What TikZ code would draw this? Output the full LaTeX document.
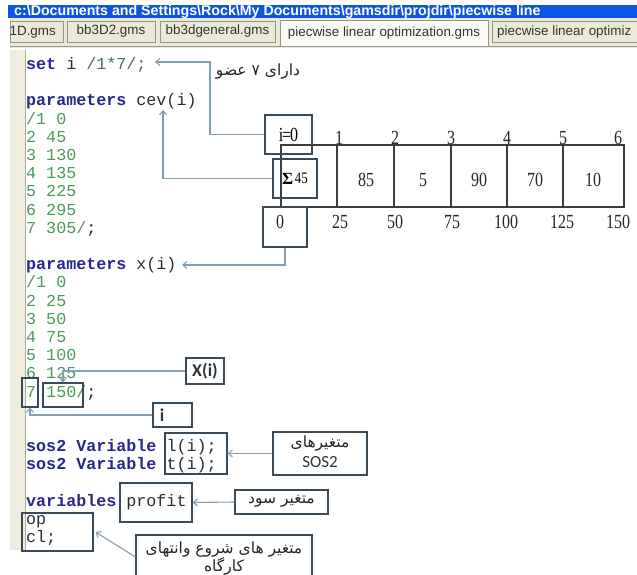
\documentclass[tikz,border=0pt]{standalone}
\usepackage{fontspec}
\usepackage{graphicx}
\setmainfont{Liberation Serif}
\newfontfamily\codefont{Liberation Mono}
\newfontfamily\uifont{Liberation Sans}
\newfontfamily\labfont{Carlito}
\newfontfamily\fafont[Script=Arabic]{DejaVu Sans}
\TeXXeTstate=1
\usetikzlibrary{arrows.meta}
\definecolor{kwc}{RGB}{40,40,140}
\definecolor{datc}{RGB}{78,152,88}
\definecolor{setc}{RGB}{70,110,100}
\definecolor{connc}{RGB}{130,158,178}
\definecolor{bxc}{RGB}{55,75,90}
\definecolor{tblc}{RGB}{60,60,60}
\definecolor{titleblue}{RGB}{12,86,226}
\definecolor{tabbg}{RGB}{236,233,216}
\definecolor{tabact}{RGB}{250,249,244}
\definecolor{tabdark}{RGB}{150,148,135}
\definecolor{gutterc}{RGB}{240,237,222}
\definecolor{gutline}{RGB}{175,172,160}
\definecolor{codec}{RGB}{45,45,45}
\newcommand{\mykw}[1]{{\bfseries\color{kwc}#1}}
\newcommand{\mydat}[1]{\textcolor{datc}{#1}}
\newcommand{\tsq}[1]{\scalebox{0.8}[1]{#1}}
\begin{document}
\begin{tikzpicture}[x=1pt,y=-1pt,
  codeline/.style={anchor=base west, inner sep=0pt, font=\codefont\fontsize{16.7}{18}\selectfont, text=codec},
  cbox/.style={draw=bxc, line width=1.2pt, inner sep=0pt},
  cell/.style={draw=tblc, line width=1.1pt, inner sep=0pt, minimum height=62pt},
  tnum/.style={inner sep=0pt, font=\fontsize{20}{20}\selectfont, text=black!85},
  conn/.style={draw=connc, line width=1.1pt, -{Straight Barb[length=4pt,width=7pt]}},
  fa/.style={font=\fafont\fontsize{15.5}{18}\selectfont, text=black!85, inner sep=0pt, align=center},
  lab/.style={font=\labfont\bfseries\fontsize{18}{20}\selectfont, text=black!80, inner sep=0pt},
  tabst/.style={draw=tabdark, line width=0.8pt, fill=tabbg, inner sep=0pt, font=\uifont\fontsize{13.4}{15}\selectfont, text=black!80},
  tabtxt/.style={inner sep=0pt, font=\uifont\fontsize{13.4}{15}\selectfont, text=black!80}
]
\useasboundingbox (0,0) rectangle (637,575);
\clip (0,0) rectangle (637,575);
\fill[white] (0,0) rectangle (637,575);

% title bar
\fill[titleblue] (8,5) rectangle (637,18.5);
\begin{scope}
\clip (8,5) rectangle (637,18.5);
\node[anchor=base west, inner sep=0pt, text=white, font=\uifont\bfseries\fontsize{14.2}{15}\selectfont] (title) at (14,15.8) {c:\textbackslash Documents and Settings\textbackslash Rock\textbackslash My Documents\textbackslash gamsdir\textbackslash projdir\textbackslash piecwise line};
\end{scope}

% tab bar
\fill[tabbg] (10,18.5) rectangle (637,48);
\draw[tabdark, line width=0.8pt] (10,46) -- (637,46);
\node[tabst, minimum width=53pt, minimum height=21pt] (tab1) at (36.5,31.5) {};
\node[tabtxt, anchor=east] (tab1t) at (56,32) {1D.gms};
\node[tabst, minimum width=88pt, minimum height=21pt] (tab2) at (111,31.5) {bb3D2.gms};
\node[tabst, minimum width=115pt, minimum height=21pt] (tab3) at (217.5,31.5) {bb3dgeneral.gms};
\node[tabst, fill=tabact, minimum width=208pt, minimum height=26pt] (tab4) at (384,33) {piecwise linear optimization.gms};
\node[tabst, minimum width=160pt, minimum height=21pt, anchor=west] (tab5) at (492,31.5) {};
\node[tabtxt, anchor=west] (tab5t) at (497,32) {piecwise linear optimiz};

% gutter
\fill[gutterc] (10,50) rectangle (25,550);
\draw[gutline, line width=1pt] (25,50) -- (25,550);

% code
\node[codeline] (l0) at (26,69.5) {\mykw{set} i \textcolor{setc}{/1*7/;}};
\node[codeline] (l2) at (26,105.9) {\mykw{parameters} cev(i)};
\node[codeline] (l3) at (26,124.1) {\mydat{/1 0}};
\node[codeline] (l4) at (26,142.3) {\mydat{2 45}};
\node[codeline] (l5) at (26,160.5) {\mydat{3 130}};
\node[codeline] (l6) at (26,178.7) {\mydat{4 135}};
\node[codeline] (l7) at (26,196.9) {\mydat{5 225}};
\node[codeline] (l8) at (26,215.1) {\mydat{6 295}};
\node[codeline] (l9) at (26,233.3) {\mydat{7 305/};};
\node[codeline] (l11) at (26,269.7) {\mykw{parameters} x(i)};
\node[codeline] (l12) at (26,287.9) {\mydat{/1 0}};
\node[codeline] (l13) at (26,306.1) {\mydat{2 25}};
\node[codeline] (l14) at (26,324.3) {\mydat{3 50}};
\node[codeline] (l15) at (26,342.5) {\mydat{4 75}};
\node[codeline] (l16) at (26,360.7) {\mydat{5 100}};
\node[codeline] (l17) at (26,378.9) {\mydat{6 125}};
\node[codeline] (l18) at (26,397.1) {\mydat{7 150/};};
\node[codeline] (l21) at (26,451.7) {\mykw{sos2 Variable} l(i);};
\node[codeline] (l22) at (26,469.9) {\mykw{sos2 Variable} t(i);};
\node[codeline] (l24) at (26,506.3) {\mykw{variables} profit};
\node[codeline] (l25) at (26,524.5) {op};
\node[codeline] (l26) at (26,542.7) {cl;};

% table
\node[cell, minimum width=56pt] (c1) at (309,176) {};
\node[cell, minimum width=57pt] (c2) at (365.5,176) {};
\node[cell, minimum width=57pt] (c3) at (422.5,176) {};
\node[cell, minimum width=56pt] (c4) at (479,176) {};
\node[cell, minimum width=56pt] (c5) at (535,176) {};
\node[cell, minimum width=61pt] (c6) at (593.5,176) {};
\node[tnum] (v2) at (366,180) {\tsq{85}};
\node[tnum] (v3) at (423,180) {\tsq{5}};
\node[tnum] (v4) at (479,180) {\tsq{90}};
\node[tnum] (v5) at (535,180) {\tsq{70}};
\node[tnum] (v6) at (593,180) {\tsq{10}};
\node[tnum] (t1) at (339,138) {\tsq{1}};
\node[tnum] (t2) at (395,138) {\tsq{2}};
\node[tnum] (t3) at (451,138) {\tsq{3}};
\node[tnum] (t4) at (507,138) {\tsq{4}};
\node[tnum] (t5) at (563,138) {\tsq{5}};
\node[tnum] (t6) at (618,138) {\tsq{6}};
\node[tnum] (x1) at (340,222) {\tsq{25}};
\node[tnum] (x2) at (395,222) {\tsq{50}};
\node[tnum] (x3) at (452,222) {\tsq{75}};
\node[tnum] (x4) at (506,222) {\tsq{100}};
\node[tnum] (x5) at (562,222) {\tsq{125}};
\node[tnum] (x6) at (618,222) {\tsq{150}};

% boxes around table items
\node[cbox, minimum width=47pt, minimum height=39pt, font=\fontsize{20}{20}\selectfont] (bi0) at (288.5,134.5) {\tsq{i\kern-1.5pt=\kern-1pt0}};
\node[cbox, minimum width=44pt, minimum height=39pt] (bsig) at (295,178.5) {{\fontsize{17}{17}\selectfont\bfseries Σ}\,\raisebox{1.5pt}{\fontsize{16}{16}\selectfont\tsq{45}}};
\node[cbox, minimum width=44pt, minimum height=40pt] (b0) at (285,227) {};
\node[tnum] (zero) at (280,222) {\tsq{0}};

% boxes around code
\node[cbox, minimum width=16pt, minimum height=29pt] (b7) at (30,392.5) {};
\node[cbox, minimum width=40pt, minimum height=24pt] (b150) at (63,395) {};
\node[cbox, minimum width=62pt, minimum height=41pt] (blt) at (196,453.5) {};
\node[cbox, minimum width=72pt, minimum height=39pt] (bprof) at (156,502.5) {};
\node[cbox, minimum width=71pt, minimum height=38pt] (bop) at (57.5,532) {};

% label boxes
\node[fa] (lab7) at (258,72) {\beginR دارای ۷ عضو\endR};
\node[cbox, lab, minimum width=38pt, minimum height=26pt] (bX) at (205,371) {X(i)};
\node[cbox, minimum width=39pt, minimum height=24pt] (bi) at (172.5,415) {};
\node[lab] (ilab) at (162,415) {i};
\node[cbox, minimum width=94pt, minimum height=43pt] (bsos) at (320,453.5) {};
\node[fa] (sosfa) at (320,444) {\beginR متغیرهای\endR};
\node[lab, font=\labfont\fontsize{17}{19}\selectfont] (sostx) at (320,462) {SOS2};
\node[cbox, minimum width=93pt, minimum height=24pt] (bsud) at (281.5,502) {};
\node[fa] (sudfa) at (281.5,501) {\beginR متغیر سود\endR};
\node[cbox, minimum width=176pt, minimum height=55pt] (bkar) at (224,562.5) {};
\node[fa] (karfa1) at (224,549) {\beginR متغیر های شروع وانتهای\endR};
\node[fa] (karfa2) at (224,566) {\beginR کارگاه\endR};

% connectors
\coordinate (tipset) at (155,62);
\coordinate (tipcev) at (163,110);
\coordinate (tipx) at (182,265);
\draw[conn] (bi0.west) -| (210,62) -- (tipset);
\draw[conn] (bsig.west) -| (tipcev);
\draw[conn] (b0.south) |- (tipx);
\draw[conn] (bX.west) -| (b150.north);
\draw[conn] (bi.west) -| (b7.south);
\draw[conn] (bsos.west) -- (blt.east);
\draw[conn] (bsud.west) -- (bprof.east);
\draw[conn] ([yshift=5.5pt]bkar.west) -- ([xshift=2pt]bop.east);
\end{tikzpicture}
\end{document}
